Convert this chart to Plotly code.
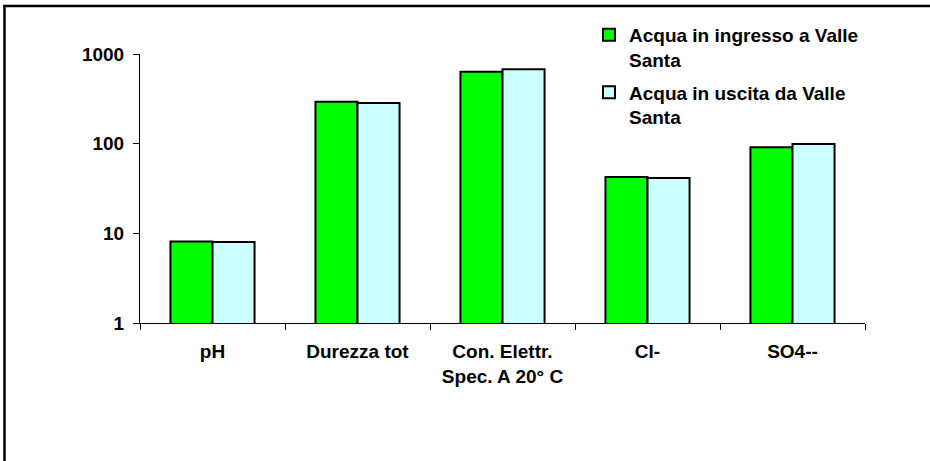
import plotly.graph_objects as go

categories = ["pH", "Durezza tot", "Con. Elettr.<br>Spec. A 20° C", "Cl-", "SO4--"]
ingresso = [8.1, 293, 632, 42.4, 91]
uscita = [8.0, 284, 678, 41.4, 99]
series_names = ["Acqua in ingresso a Valle<br>Santa", "Acqua in uscita da Valle<br>Santa"]
y_tickvals = [1, 10, 100, 1000]
y_ticktext = ["1", "10", "100", "1000"]

W, H = 930, 461
L, R, T, B = 140, 65, 54, 138
pw, ph = W - L - R, H - T - B

def px_x(x):
    return (x - L) / pw

def px_y(y):
    return (H - B - y) / ph

FONT = "Liberation Sans, Arial, sans-serif"
FS = 19
font_bold = dict(family=FONT, size=FS, color="black", weight="bold")

fig = go.Figure()
fig.add_trace(go.Bar(x=categories, y=ingresso, name=series_names[0],
                     marker=dict(color="#00FF00", line=dict(color="black", width=2)),
                     legendgroup="a"))
fig.add_trace(go.Bar(x=categories, y=uscita, name=series_names[1],
                     marker=dict(color="#CCFFFF", line=dict(color="black", width=2)),
                     legendgroup="b"))

fig.update_layout(
    width=W, height=H,
    margin=dict(l=L, r=R, t=T, b=B),
    paper_bgcolor="white", plot_bgcolor="white",
    font=font_bold,
    barmode="group", bargap=0.42, bargroupgap=0,
    showlegend=True,
    legend=dict(x=px_x(589), y=px_y(16), xanchor="left", yanchor="top",
                bgcolor="rgba(0,0,0,0)", valign="top", tracegroupgap=5,
                font=font_bold),
    xaxis=dict(type="category", showline=True, linecolor="black", linewidth=1,
               ticks="outside", tickson="boundaries", ticklen=6, tickcolor="black",
               showgrid=False, tickfont=font_bold, ticklabelstandoff=11),
    yaxis=dict(type="log", range=[0, 3], showline=True, linecolor="black", linewidth=1,
               ticks="outside", ticklen=6, tickcolor="black", showgrid=False,
               tickvals=y_tickvals, ticktext=y_ticktext,
               tickfont=font_bold, ticklabelstandoff=5, zeroline=False),
    shapes=[
        dict(type="line", xref="paper", yref="paper", x0=px_x(3), x1=px_x(931),
             y0=px_y(6), y1=px_y(6), line=dict(color="black", width=2.5)),
        dict(type="line", xref="paper", yref="paper", x0=px_x(4.5), x1=px_x(4.5),
             y0=px_y(5), y1=px_y(462), line=dict(color="black", width=2.5)),
    ],
)

fig.write_html("out.html", config={"displayModeBar": False},
               post_script="document.body.style.margin='0';document.body.style.padding='0';")
